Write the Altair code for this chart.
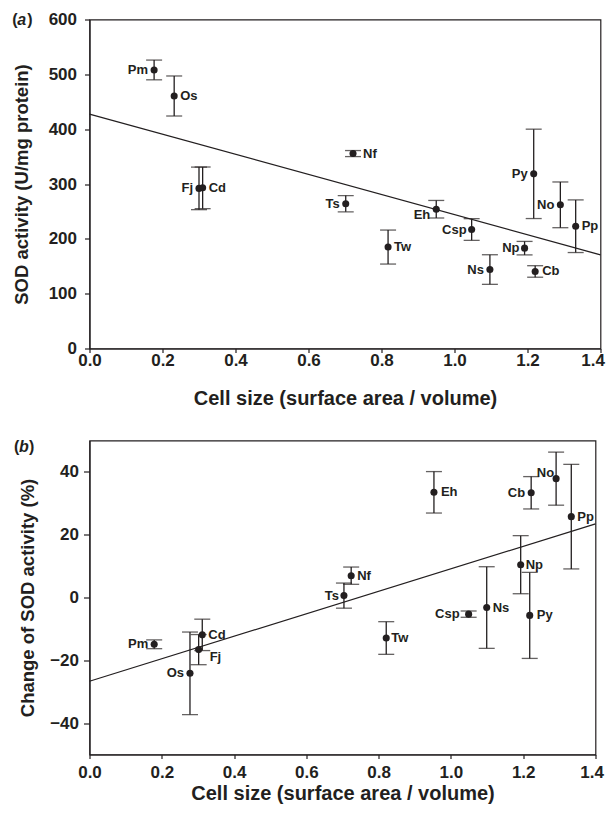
import altair as alt
import pandas as pd

# ---------------- data ----------------
species = ["Pm", "Os", "Fj", "Cd", "Ts", "Nf", "Tw", "Eh", "Csp", "Ns", "Np", "Cb", "Py", "No", "Pp"]

# panel (a): SOD activity (U/mg protein)
cell_a = [0.177, 0.232, 0.300, 0.310, 0.702, 0.722, 0.818, 0.950, 1.047, 1.097, 1.192, 1.221, 1.217, 1.290, 1.332]
sod_a = [508, 460.5, 292, 293, 264, 355.5, 185, 254, 217, 144, 183, 140.5, 318.5, 262, 223]
err_a = [18, 36.5, 38.8, 38, 14.8, 5.5, 31, 16, 19.8, 27, 12.3, 10.5, 81.5, 41.7, 48]

# panel (b): change of SOD activity (%)
cell_b = [0.179, 0.278, 0.302, 0.312, 0.704, 0.724, 0.821, 0.953, 1.049, 1.099, 1.193, 1.222, 1.218, 1.291, 1.333]
chg_b = [-14.9, -24.15, -16.6, -11.9, 0.6, 6.95, -12.9, 33.5, -5.3, -3.2, 10.45, 33.35, -5.7, 37.85, 25.75]
err_b = [1.4, 13.15, 4.8, 5.0, 4.0, 2.75, 5.2, 6.6, 1.0, 13.0, 9.25, 5.15, 13.7, 8.45, 16.65]

x_ticks = [0.0, 0.2, 0.4, 0.6, 0.8, 1.0, 1.2, 1.4]
y_ticks_a = [0, 100, 200, 300, 400, 500, 600]
y_ticks_b = [-40, -20, 0, 20, 40]

# ---------------- label placement (style, not data) ----------------
# (align, dx, dy) per species
place_a = [("right", -6, 0), ("left", 6, 0), ("right", -6, 0), ("left", 6, 0),
           ("right", -6, 0), ("left", 10, 0), ("left", 6, 0), ("right", -6, 6),
           ("right", -5, 0), ("right", -6, 0), ("right", -5, 0), ("left", 7, 0),
           ("right", -6, 0), ("right", -6, 0), ("left", 6, 0)]
place_b = [("right", -6, 0), ("right", -6, 0), ("left", 11, 7), ("left", 6, 0),
           ("right", -5, 0), ("left", 6, 0), ("left", 5, 0), ("left", 7, 0),
           ("right", -9, 0), ("left", 6, 0), ("left", 5, 0), ("right", -6, 0),
           ("left", 7, 0), ("right", -2, -6), ("left", 6, 0)]

FONT = "Liberation Sans"
INK = "#231f20"


def make_df(xs, ys, es, place):
    return pd.DataFrame({
        "sp": species,
        "x": xs,
        "y": ys,
        "lo": [y - e for y, e in zip(ys, es)],
        "hi": [y + e for y, e in zip(ys, es)],
        "al": [p[0] for p in place],
        "dx": [p[1] for p in place],
        "dy": [p[2] for p in place],
    })


def panel(df, ydom, yticks, ytitle, letter, letter_pos, width, height, o):
    xs = alt.Scale(domain=[0, 1.4], nice=False, zero=False)
    ys = alt.Scale(domain=ydom, nice=False, zero=False)
    common = dict(grid=False, domainColor=INK, domainWidth=1.2, tickColor=INK, tickWidth=1.2,
                  labelFont=FONT, labelFontWeight="bold", labelFontSize=17, labelColor=INK,
                  titleFont=FONT, titleFontWeight="bold", titleColor=INK, labelFlush=False)
    xaxis = alt.Axis(values=x_ticks, format=".1f", title="Cell size (surface area / volume)",
                     tickSize=o["xtick"], labelPadding=o["xlabpad"],
                     titlePadding=o["xtitlepad"], titleFontSize=20,
                     labelAlign=alt.condition("datum.value > 1.35", alt.value("right"), alt.value("center")),
                     labelOffset=alt.condition("datum.value > 1.35", alt.value(o["lastoff"]), alt.value(0)),
                     **common)
    yaxis = alt.Axis(values=yticks, format="d", title=ytitle,
                     tickSize=o["ytick"], labelPadding=o["ylabpad"],
                     titlePadding=o["ytitlepad"], titleFontSize=18.5,
                     **common)
    X = alt.X("x:Q", scale=xs, axis=xaxis)
    Y = alt.Y("y:Q", scale=ys, axis=yaxis)

    base = alt.Chart(df)
    fit = base.transform_regression("x", "y", extent=[0, 1.4]).mark_line(
        color=INK, strokeWidth=1.2).encode(x=X, y=Y)
    bars = base.mark_rule(color=INK, strokeWidth=1.3).encode(
        x=X, y=alt.Y("lo:Q", scale=ys), y2="hi:Q")
    cap_lo = base.mark_tick(color=INK, orient="horizontal", size=16, thickness=1.3).encode(
        x=X, y=alt.Y("lo:Q", scale=ys))
    cap_hi = base.mark_tick(color=INK, orient="horizontal", size=16, thickness=1.3).encode(
        x=X, y=alt.Y("hi:Q", scale=ys))
    pts = base.mark_circle(color=INK, size=50, opacity=1).encode(x=X, y=Y)

    layers = [fit, bars, cap_lo, cap_hi, pts]
    for (al, dx, dy), g in df.groupby(["al", "dx", "dy"]):
        layers.append(alt.Chart(g).mark_text(
            align=al, baseline="middle", dx=int(dx), dy=int(dy), font=FONT,
            fontWeight="bold", fontSize=13, color=INK).encode(x=X, y=Y, text="sp:N"))

    lx, ly = letter_pos
    for txt, off, style in [("(", 0, "normal"), (letter, 5, "italic"), (")", 15, "normal")]:
        layers.append(alt.Chart(pd.DataFrame({"t": [txt]})).mark_text(
            align="left", baseline="alphabetic", font=FONT, fontWeight="bold",
            fontStyle=style, fontSize=16, color=INK).encode(
            x=alt.value(lx + off), y=alt.value(ly), text="t:N"))

    return alt.layer(*layers).properties(width=width, height=height)


df_a = make_df(cell_a, sod_a, err_a, place_a)
df_b = make_df(cell_b, chg_b, err_b, place_b)

pa = panel(df_a, [0, 600], y_ticks_a, "SOD activity (U/mg protein)", "a", (-77.3, 5),
           511, 329, dict(xtick=4, xlabpad=0, xtitlepad=20, ytick=5, ylabpad=8, ytitlepad=17,
                          lastoff=4))
pb = panel(df_b, [-50, 50], y_ticks_b, "Change of SOD activity (%)", "b", (-75.5, 11),
           506, 314, dict(xtick=4, xlabpad=6, xtitlepad=3, ytick=6, ylabpad=5, ytitlepad=12,
                          lastoff=8))

chart = alt.vconcat(pa, pb, spacing=28).properties(
    padding={"left": 3.5, "top": 1.5, "right": 0, "bottom": 0},
    background="white",
).configure_view(stroke=INK, strokeWidth=1.2)

chart.save("out.html", embed_options={"renderer": "svg", "actions": False})
